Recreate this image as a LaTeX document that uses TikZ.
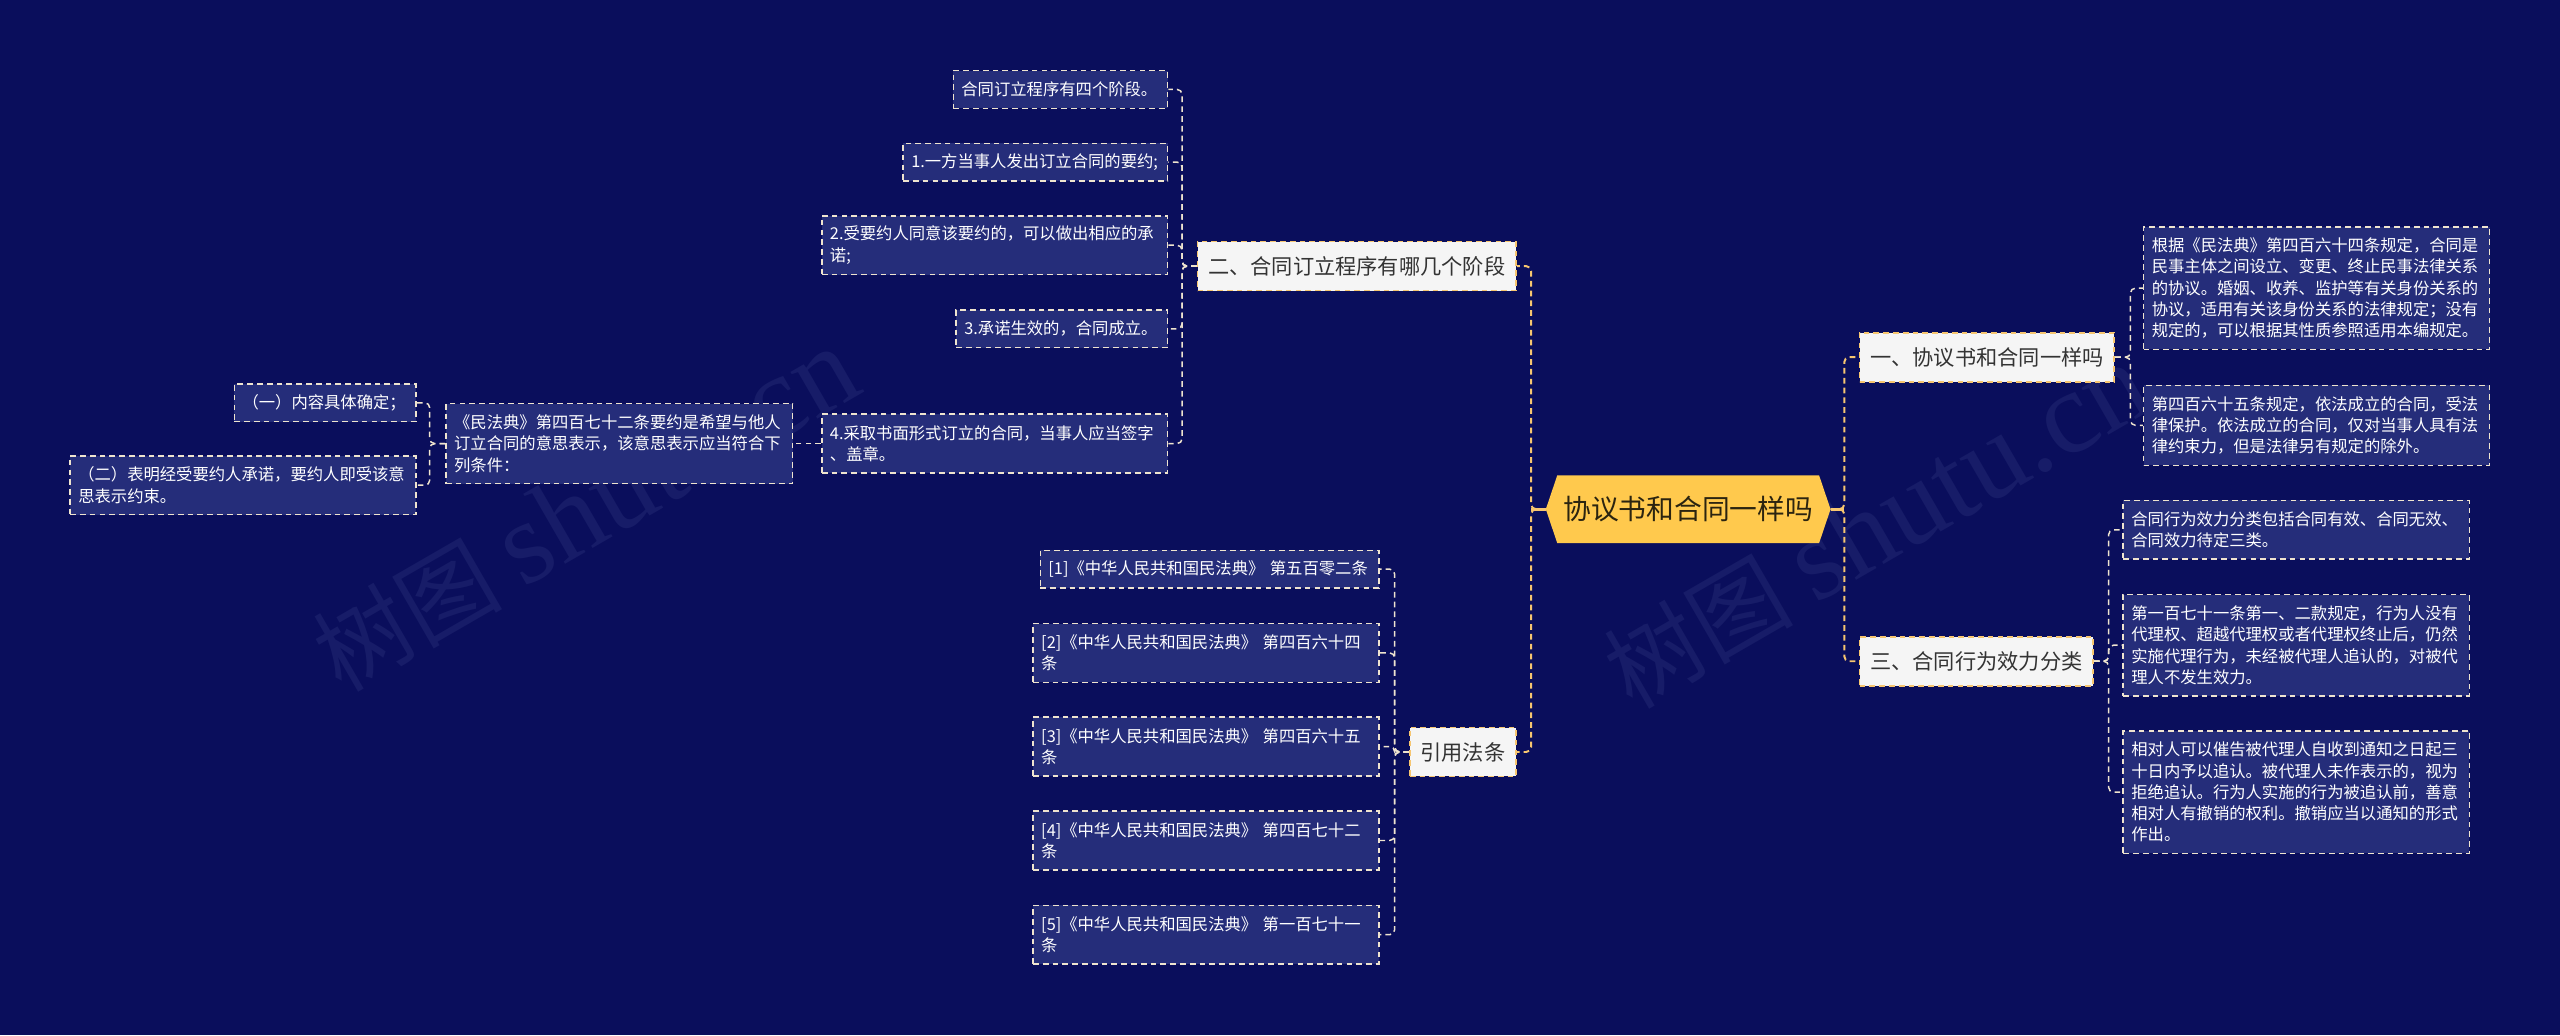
\documentclass[tikz,border=0pt]{standalone}
\usepackage{fontspec}
\setmainfont{Noto Sans CJK SC}
\newfontfamily\wmserif{Liberation Serif}
\usetikzlibrary{calc}
\definecolor{bgc}{HTML}{0A0E5C}
\definecolor{leaffill}{HTML}{252D7A}
\definecolor{leafborder}{HTML}{EFE4CF}
\definecolor{brfill}{HTML}{F5F5F5}
\definecolor{gold}{HTML}{F7C670}
\definecolor{rootfill}{HTML}{FFC94D}
\definecolor{darktext}{HTML}{333333}
\definecolor{roottext}{HTML}{2B2410}
\definecolor{wmc}{HTML}{171C68}
\pgfdeclarelayer{back}
\pgfsetlayers{back,main}
\begin{document}
\begin{tikzpicture}[x=1pt,y=-1pt,
  leaf/.style={draw=leafborder, dash pattern=on 3.5pt off 2.5pt, line width=0.9pt,
    fill=leaffill, text=white, font=\fontsize{10}{13}\selectfont, align=left,
    text width=#1, inner xsep=5pt, inner ysep=3pt},
  leaf/.default=201.8pt,
  nl/.style={minimum height={13*#1+10}},
  branch/.style={draw=gold, dash pattern=on 3.5pt off 2.5pt, line width=1pt,
    fill=brfill, text=darktext, font=\fontsize{13}{15}\selectfont,
    inner xsep=6.5pt, inner ysep=2pt, minimum height=30pt},
  rootn/.style={font=\fontsize{17}{20}\selectfont, text=roottext,
    minimum width=174pt, minimum height=41pt, inner sep=0pt},
  trunkln/.style={draw=gold, line width=1.2pt, dash pattern=on 3.5pt off 2.5pt, rounded corners=3pt},
  leafln/.style={draw=leafborder, line width=0.9pt, dash pattern=on 3.5pt off 2.5pt, rounded corners=3pt},
  stubln/.style={draw=gold, line width=1.6pt},
  wmark/.style={text=wmc, font=\fontsize{58}{62}\selectfont, rotate=30, anchor=base west, inner sep=0pt}
]
\useasboundingbox (0,0) rectangle (1568,634);
\begin{pgfonlayer}{back}
  \fill[bgc] (0,0) rectangle (1568,634);
  \node[wmark] (wm1) at (209,425) {树图 {\wmserif\fontsize{72}{76}\selectfont shutu.cn}};
  \node[wmark] (wm2) at (1000,435) {树图 {\wmserif\fontsize{72}{76}\selectfont shutu.cn}};
\end{pgfonlayer}

% root
\node[rootn] (root) at (1034,311.9) {协议书和合同一样吗};
\begin{pgfonlayer}{back}
  \fill[rootfill] (root.west) -- ([xshift=7pt]root.north west) -- ([xshift=-7pt]root.north east)
    -- (root.east) -- ([xshift=-7pt]root.south east) -- ([xshift=7pt]root.south west) -- cycle;
\end{pgfonlayer}

% branches
\node[branch, anchor=east] (er) at (929,163) {二、合同订立程序有哪几个阶段};
\node[branch, anchor=east] (yin) at (929,460.6) {引用法条};
\node[branch, anchor=west] (yi) at (1138.5,218.8) {一、协议书和合同一样吗};
\node[branch, anchor=west] (san) at (1138.5,405) {三、合同行为效力分类};

% children of er
\node[leaf=121.3pt, nl=1, anchor=east] (c0) at (715.6,54.8) {合同订立程序有四个阶段。};
\node[leaf=152pt, nl=1, anchor=east] (c1) at (715.6,99.3) {1.一方当事人发出订立合同的要约;};
\node[leaf, nl=2, anchor=east] (c2) at (715.6,150.2) {2.受要约人同意该要约的，可以做出相应的承\\诺;};
\node[leaf=119.5pt, nl=1, anchor=east] (c3) at (715.6,201.4) {3.承诺生效的，合同成立。};
\node[leaf, nl=2, anchor=east] (c4) at (715.6,271.7) {4.采取书面形式订立的合同，当事人应当签字\\、盖章。};
\node[leaf=202.4pt, nl=3, anchor=east] (m472) at (486,271.7) {《民法典》第四百七十二条要约是希望与他人\\订立合同的意思表示，该意思表示应当符合下\\列条件：};
\node[leaf=101.2pt, nl=1, anchor=east] (k1) at (255.2,246.7) {（一）内容具体确定；};
\node[leaf, nl=2, anchor=east] (k2) at (255.2,297.2) {（二）表明经受要约人承诺，要约人即受该意\\思表示约束。};

% citations
\node[leaf=197.4pt, nl=1, anchor=east] (L1) at (845,348.6) {[1]《中华人民共和国民法典》 第五百零二条};
\node[leaf, nl=2, anchor=east] (L2) at (845,399.9) {[2]《中华人民共和国民法典》 第四百六十四\\条};
\node[leaf, nl=2, anchor=east] (L3) at (845,457.3) {[3]《中华人民共和国民法典》 第四百六十五\\条};
\node[leaf, nl=2, anchor=east] (L4) at (845,514.8) {[4]《中华人民共和国民法典》 第四百七十二\\条};
\node[leaf, nl=2, anchor=east] (L5) at (845,572.5) {[5]《中华人民共和国民法典》 第一百七十一\\条};

% right side
\node[leaf=202pt, nl=5, anchor=west] (r1) at (1312.5,176.5) {根据《民法典》第四百六十四条规定，合同是\\民事主体之间设立、变更、终止民事法律关系\\的协议。婚姻、收养、监护等有关身份关系的\\协议，适用有关该身份关系的法律规定；没有\\规定的，可以根据其性质参照适用本编规定。};
\node[leaf=202pt, nl=3, anchor=west] (r2) at (1312.5,260.5) {第四百六十五条规定，依法成立的合同，受法\\律保护。依法成立的合同，仅对当事人具有法\\律约束力，但是法律另有规定的除外。};
\node[leaf=202pt, nl=2, anchor=west] (s1) at (1300,324.5) {合同行为效力分类包括合同有效、合同无效、\\合同效力待定三类。};
\node[leaf=202pt, nl=4, anchor=west] (s2) at (1300,395.2) {第一百七十一条第一、二款规定，行为人没有\\代理权、超越代理权或者代理权终止后，仍然\\实施代理行为，未经被代理人追认的，对被代\\理人不发生效力。};
\node[leaf=202pt, nl=5, anchor=west] (s3) at (1300,485.2) {相对人可以催告被代理人自收到通知之日起三\\十日内予以追认。被代理人未作表示的，视为\\拒绝追认。行为人实施的行为被追认前，善意\\相对人有撤销的权利。撤销应当以通知的形式\\作出。};

% trunk connectors
\draw[trunkln] (root.west) -- ++(-9,0) |- (er.east);
\draw[trunkln] (root.west) -- ++(-9,0) |- (yin.east);
\draw[trunkln] (root.east) -- ++(8.4,0) |- (yi.west);
\draw[trunkln] (root.east) -- ++(8.4,0) |- (san.west);
\draw[stubln] (root.west) -- ++(-9,0);
\draw[stubln] (root.east) -- ++(8.4,0);

% leaf connectors
\foreach \c in {c0,c1,c2,c3,c4} \draw[leafln] (er.west) -- ++(-9,0) |- (\c.east);
\draw[leafln] (c4.west) -- (m472.east);
\foreach \c in {k1,k2} \draw[leafln] (m472.west) -- ++(-9.5,0) |- (\c.east);
\foreach \c in {L1,L2,L3,L4,L5} \draw[leafln] (yin.west) -- ++(-8.8,0) |- (\c.east);
\foreach \c in {r1,r2} \draw[leafln] (yi.east) -- ++(9.4,0) |- (\c.west);
\foreach \c in {s1,s2,s3} \draw[leafln] (san.east) -- ++(9,0) |- (\c.west);
\end{tikzpicture}
\end{document}
